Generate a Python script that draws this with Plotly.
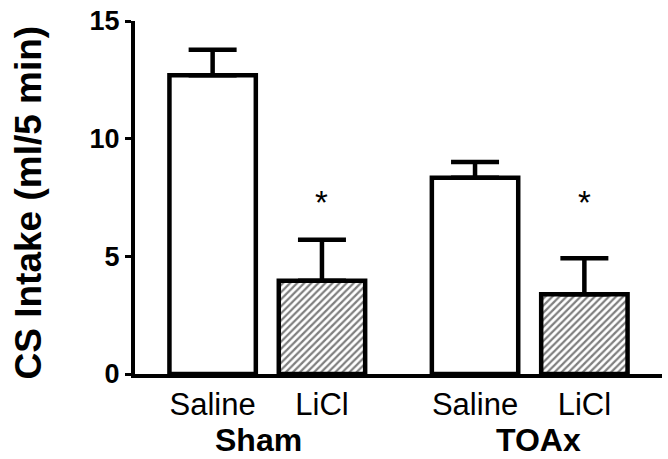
import plotly.graph_objects as go

# ---- data ----
categories = ["Saline", "LiCl", "Saline", "LiCl"]
groups = ["Sham", "TOAx"]
positions = [0, 1, 2.4, 3.4]
group_positions = [0.415, 2.977]
means = [12.69, 3.96, 8.34, 3.39]
errors = [1.09, 1.74, 0.67, 1.53]
signif = ["", "*", "", "*"]
star_y = [7.3, 7.3, 7.3, 7.3]
y_ticks = [0, 5, 10, 15]

patterns = ["", "/", "", "/"]

FONT = "Liberation Sans, Arial"

fig = go.Figure()
fig.add_trace(go.Bar(
    x=positions, y=means, width=0.79,
    marker=dict(color="white",
                line=dict(color="black", width=4.5),
                pattern=dict(shape=patterns, fgcolor="black", bgcolor="white",
                             size=5, solidity=0.45)),
    error_y=dict(type="data", array=errors, arrayminus=[0]*4, symmetric=False,
                 color="black", thickness=4.5, width=24),
    showlegend=False,
))

annotations = []
for xp, s, yy in zip(positions, signif, star_y):
    if s:
        annotations.append(dict(x=xp, y=yy, xref="x", yref="y", text=s, showarrow=False,
                                font=dict(family=FONT, size=33, color="black"),
                                yanchor="middle"))
for gx, g in zip(group_positions, groups):
    annotations.append(dict(x=gx, y=0, xref="x", yref="paper", text="<b>%s</b>" % g, showarrow=False,
                            font=dict(family=FONT, size=32, color="black"),
                            yanchor="middle", yshift=-66))
annotations.append(dict(x=-(135 - 28) / 527, y=0.486, xref="paper", yref="paper",
                        text="<b>CS Intake (ml/5 min)</b>", showarrow=False, textangle=-90,
                        font=dict(family=FONT, size=37, color="black"),
                        xanchor="center", yanchor="middle"))

fig.update_layout(
    width=668, height=459,
    margin=dict(l=135, r=6, t=16, b=85),
    paper_bgcolor="white", plot_bgcolor="white",
    annotations=annotations,
    xaxis=dict(range=[-0.71, 4.11], tickvals=positions, ticktext=categories,
               showline=True, linecolor="black", linewidth=4, ticks="",
               showgrid=False, zeroline=False,
               tickfont=dict(family=FONT, size=31, color="black")),
    yaxis=dict(range=[0, 15], tickvals=y_ticks, ticktext=["<b>%d</b>" % v for v in y_ticks],
               showline=True, linecolor="black", linewidth=4, ticks="outside", ticklen=6,
               tickwidth=3, tickcolor="black", showgrid=False, zeroline=False,
               tickfont=dict(family=FONT, size=27, color="black")),
)

fig.write_html("out.html", config={"displayModeBar": False},
               post_script="document.body.style.margin='0';document.body.style.overflow='hidden';")
